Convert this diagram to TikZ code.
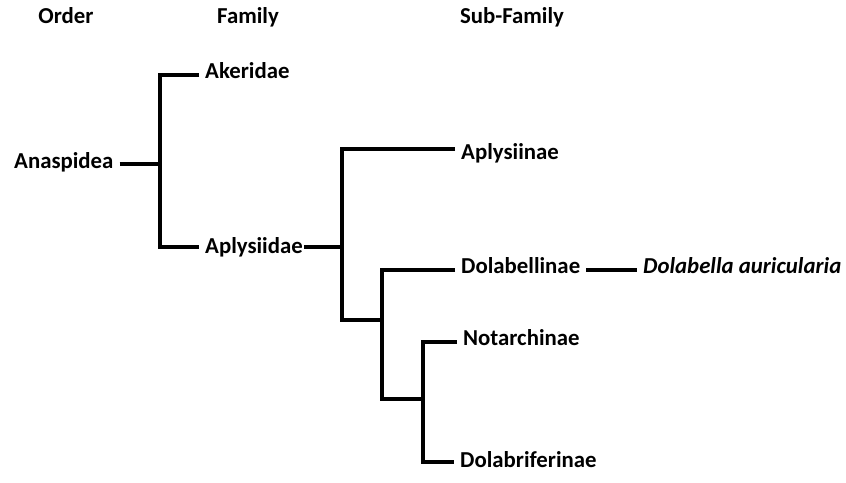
\documentclass[tikz,border=0pt]{standalone}
\usepackage{fontspec}
\setmainfont{Carlito}
\begin{document}
\begin{tikzpicture}[x=1pt,y=-1pt,
  lbl/.style={font=\bfseries\fontsize{22.8}{26}\selectfont, inner xsep=6pt, inner ysep=2pt, anchor=base west},
  hdr/.style={font=\bfseries\fontsize{22.8}{26}\selectfont, inner sep=0pt, anchor=base},
  br/.style={line width=4pt, line join=miter}]
\useasboundingbox (0,0) rectangle (846,482);
% headers
\node[hdr] (ord) at (66,23) {Order};
\node[hdr] (fam) at (248,23) {Family};
\node[hdr] (sub) at (512,23) {Sub-Family};
% labels
\node[lbl] (anasp) at (8,168) {Anaspidea};
\node[lbl] (ak) at (199,78) {Akeridae};
\node[lbl] (ap) at (199,253) {Aplysiidae};
\node[lbl] (apin) at (455,159) {Aplysiinae};
\node[lbl] (dolb) at (455,273) {Dolabellinae};
\node[lbl] (nota) at (457,345) {Notarchinae};
\node[lbl] (dolf) at (454,467) {Dolabriferinae};
\node[lbl, font=\bfseries\itshape\fontsize{22.8}{26}\selectfont] (spec) at (637,273) {Dolabella auricularia};
% junctions
\coordinate (j1) at (160,164);
\coordinate (j1t) at (160,75);
\coordinate (j1b) at (160,247);
\coordinate (j2) at (342,247);
\coordinate (j2t) at (342,149);
\coordinate (j2b) at (342,320);
\coordinate (j3) at (382,320);
\coordinate (j3t) at (382,270);
\coordinate (j3b) at (382,399);
\coordinate (j4) at (423,399);
\coordinate (j4t) at (423,342);
\coordinate (j4b) at (423,462);
% branches
\draw[br] (anasp.east |- j1) -- (j1);
\draw[br] (ak.west |- j1t) -- (j1t) -- (j1b) -- (ap.west |- j1b);
\draw[br] ([xshift=-5pt]ap.east |- j2) -- (j2);
\draw[br] (apin.west |- j2t) -- (j2t) -- (j2b) -- (j3);
\draw[br] (dolb.west |- j3t) -- (j3t) -- (j3b) -- (j4);
\draw[br] (nota.west |- j4t) -- (j4t) -- (j4b) -- (dolf.west |- j4b);
\draw[br] (dolb.east |- j3t) -- (spec.west |- j3t);
\end{tikzpicture}
\end{document}
